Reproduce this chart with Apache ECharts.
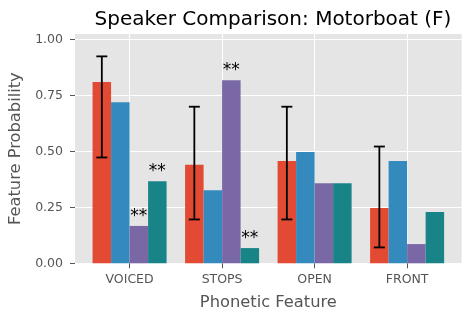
<!DOCTYPE html>
<html>
<head>
<meta charset="utf-8">
<script src="https://cdn.jsdelivr.net/npm/echarts@6/dist/echarts.min.js"></script>
<style>
  html, body { margin: 0; padding: 0; background: #fff; }
  #chart { width: 471px; height: 321px; }
</style>
</head>
<body>
<div id="chart"></div>
<script>
  // categories and series
  var categories = ['VOICED', 'STOPS', 'OPEN', 'FRONT'];
  var redVals = [0.81, 0.44, 0.457, 0.247];
  var blueVals = [0.72, 0.327, 0.497, 0.457];
  var purpleVals = [0.167, 0.818, 0.358, 0.086];
  var tealVals = [0.367, 0.068, 0.358, 0.229];
  // error bars (red series only)
  var errLow = [0.473, 0.196, 0.196, 0.071];
  var errHigh = [0.925, 0.70, 0.70, 0.522];
  // significance markers
  var purpleSig = [true, true, false, false];
  var tealSig = [true, true, false, false];
  var yTicks = [0, 0.25, 0.5, 0.75, 1.0];

  var colors = ['#E24A33', '#348ABD', '#7A68A6', '#188487'];
  var allVals = [redVals, blueVals, purpleVals, tealVals];
  var allSig = [null, null, purpleSig, tealSig];

  var dom = document.getElementById('chart');
  var myChart = echarts.init(dom, null, {renderer: 'canvas'});

  // bar offset inside a group (matplotlib width 0.2)
  function xPos(i, s) {
    return i + (s - 1.5) * 0.2;
  }

  var series = allVals.map(function (vals, s) {
    return {
      type: 'bar',
      barWidth: 18.5,
      barGap: '-100%',
      itemStyle: { color: colors[s] },
      label: {
        show: false,
        position: 'top',
        distance: 1,
        formatter: '**',
        fontSize: 17,
        color: '#000',
        fontFamily: 'DejaVu Sans'
      },
      data: vals.map(function (v, i) {
        var item = { value: [xPos(i, s), v] };
        if (allSig[s] && allSig[s][i]) {
          item.label = { show: true };
        }
        return item;
      }),
      z: 2
    };
  });

  // error bars on the red series
  series.push({
    type: 'custom',
    z: 5,
    data: errLow.map(function (lo, i) {
      return [xPos(i, 0), lo, errHigh[i]];
    }),
    renderItem: function (params, api) {
      var lo = api.coord([api.value(0), api.value(1)]);
      var hi = api.coord([api.value(0), api.value(2)]);
      var cap = 5.5;
      var st = { stroke: '#000', lineWidth: 1.8 };
      return {
        type: 'group',
        children: [
          { type: 'line', shape: { x1: lo[0], y1: lo[1], x2: hi[0], y2: hi[1] }, style: st },
          { type: 'line', shape: { x1: lo[0] - cap, y1: lo[1], x2: lo[0] + cap, y2: lo[1] }, style: st },
          { type: 'line', shape: { x1: hi[0] - cap, y1: hi[1], x2: hi[0] + cap, y2: hi[1] }, style: st }
        ]
      };
    }
  });

  myChart.setOption({
    animation: false,
    textStyle: { fontFamily: 'DejaVu Sans' },
    title: {
      text: 'Speaker Comparison: Motorboat (F)',
      left: 268,
      top: 5,
      textAlign: 'center',
      textStyle: { fontSize: 20, fontWeight: 'normal', color: '#000', fontFamily: 'DejaVu Sans' }
    },
    grid: {
      left: 75,
      right: 9.3,
      top: 34,
      bottom: 57.7,
      show: true,
      backgroundColor: '#E5E5E5',
      borderWidth: 0
    },
    xAxis: {
      type: 'value',
      min: -0.59,
      max: 3.59,
      name: 'Phonetic Feature',
      nameLocation: 'middle',
      nameGap: 31,
      nameTextStyle: { fontSize: 16.3, color: '#555' },
      axisLine: { show: false, onZero: false },
      axisTick: {
        show: true, length: 5, customValues: [0, 1, 2, 3],
        lineStyle: { color: '#555', width: 1 }
      },
      axisLabel: {
        customValues: [0, 1, 2, 3],
        fontSize: 12.5,
        color: '#555',
        margin: 10,
        formatter: function (v) { return categories[Math.round(v)]; }
      },
      splitLine: { show: true, lineStyle: { color: '#fff', width: 1 } }
    },
    yAxis: {
      type: 'value',
      min: 0,
      max: 1.025,
      name: 'Feature Probability',
      nameLocation: 'middle',
      nameGap: 50,
      nameTextStyle: { fontSize: 16.3, color: '#555' },
      axisLine: { show: false, onZero: false },
      axisTick: {
        show: true, length: 5, customValues: yTicks,
        lineStyle: { color: '#555', width: 1 }
      },
      axisLabel: {
        customValues: yTicks,
        fontSize: 12.5,
        color: '#555',
        margin: 12,
        formatter: function (v) { return v.toFixed(2); }
      },
      splitLine: { show: true, lineStyle: { color: '#fff', width: 1 } }
    },
    series: series
  });
</script>
</body>
</html>
